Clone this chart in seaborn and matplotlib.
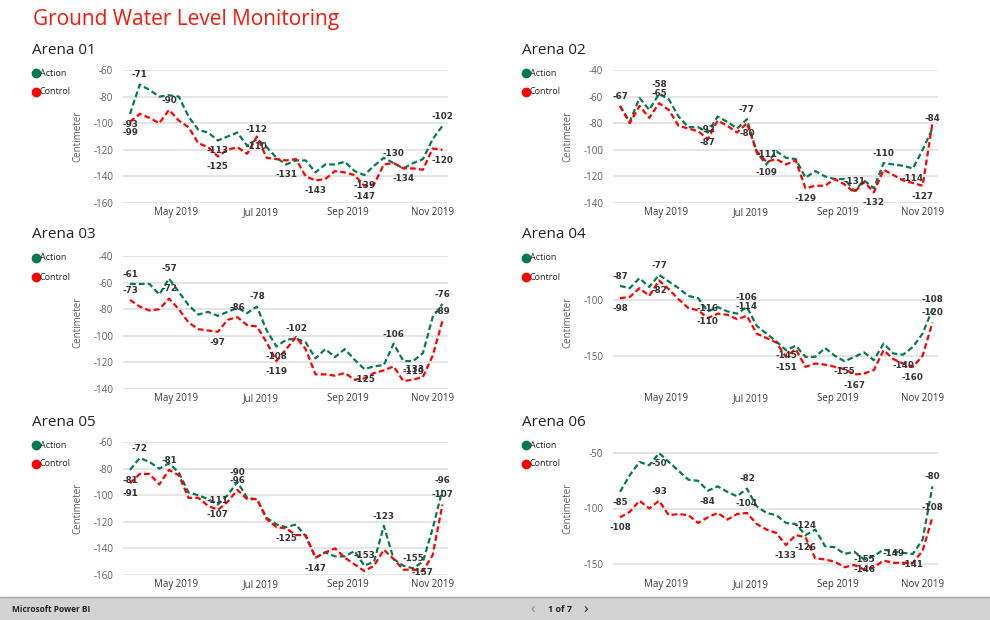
import numpy as np
import pandas as pd
import matplotlib
matplotlib.use("Agg")
import matplotlib.pyplot as plt
import seaborn as sns
from matplotlib.lines import Line2D
from matplotlib.patches import Rectangle

# ---------------------------------------------------------------- data
dates = pd.date_range("2019-03-29", periods=33, freq="7D")
series_names = ["Action", "Control"]
arena_names = ["Arena 01", "Arena 02", "Arena 03", "Arena 04", "Arena 05", "Arena 06"]
month_ticks = ["2019-05-01", "2019-07-01", "2019-09-01", "2019-11-01"]
month_labels = ["May 2019", "Jul 2019", "Sep 2019", "Nov 2019"]

action_01 = [-93, -71, -75, -80, -79, -80, -95, -105, -107, -113, -110, -107, -117, -112, -118, -126, -131,
             -128, -128, -137, -131, -131, -129, -136, -139, -132, -126, -130, -134, -130, -127, -112, -102]
control_01 = [-99, -93, -96, -100, -90, -98, -103, -115, -118, -125, -120, -118, -123, -110, -126, -127, -128,
              -127, -140, -143, -142, -136, -137, -139, -147, -146, -131, -130, -134, -134, -135, -119, -120]

action_02 = [-67, -79, -61, -70, -58, -62, -75, -83, -83, -87, -75, -79, -84, -77, -102, -111, -101,
             -106, -107, -121, -116, -120, -122, -122, -131, -123, -129, -110, -111, -112, -114, -100, -84]
control_02 = [-67, -80, -67, -76, -65, -70, -82, -84, -86, -92, -78, -82, -87, -80, -101, -109, -107,
              -111, -108, -129, -127, -127, -122, -126, -132, -124, -132, -115, -119, -123, -125, -127, -80]

action_03 = [-61, -61, -61, -69, -57, -67, -77, -84, -82, -85, -82, -79, -83, -78, -96, -108, -103,
             -102, -105, -117, -110, -116, -110, -118, -125, -123, -122, -106, -119, -119, -113, -86, -76]
control_03 = [-73, -78, -81, -80, -72, -80, -90, -95, -96, -97, -88, -86, -92, -93, -105, -119, -110,
              -101, -110, -129, -129, -130, -128, -133, -132, -128, -126, -123, -134, -133, -131, -115, -89]

action_04 = [-87, -89, -80, -88, -77, -83, -89, -96, -98, -110, -106, -110, -112, -106, -123, -130, -137,
             -145, -141, -151, -151, -143, -150, -155, -151, -147, -154, -139, -148, -149, -142, -130, -108]
control_04 = [-98, -97, -89, -96, -82, -90, -99, -107, -109, -116, -112, -113, -117, -114, -130, -134, -138,
              -151, -144, -160, -157, -158, -160, -162, -167, -166, -163, -145, -153, -157, -160, -150, -120]

action_05 = [-81, -72, -75, -80, -76, -83, -98, -100, -103, -107, -100, -90, -102, -103, -117, -122, -124,
             -122, -131, -147, -143, -146, -146, -142, -153, -150, -123, -148, -153, -155, -150, -125, -96]
control_05 = [-91, -84, -84, -92, -81, -85, -102, -102, -108, -111, -105, -96, -103, -103, -118, -124, -125,
              -130, -130, -147, -143, -140, -147, -152, -157, -153, -141, -148, -156, -156, -157, -145, -107]

action_06 = [-85, -70, -58, -61, -50, -58, -66, -74, -75, -84, -80, -85, -89, -82, -98, -104, -106,
             -113, -114, -124, -119, -134, -135, -141, -139, -146, -143, -137, -139, -140, -141, -128, -80]
control_06 = [-108, -103, -93, -100, -93, -106, -105, -106, -113, -108, -104, -110, -105, -104, -114, -119, -122,
              -133, -124, -126, -145, -146, -148, -153, -151, -155, -153, -147, -149, -149, -149, -138, -108]

y_ticks = {
    "Arena 01": [-160, -140, -120, -100, -80, -60],
    "Arena 02": [-140, -120, -100, -80, -60, -40],
    "Arena 03": [-140, -120, -100, -80, -60, -40],
    "Arena 04": [-150, -100],
    "Arena 05": [-160, -140, -120, -100, -80, -60],
    "Arena 06": [-150, -100, -50],
}
y_limits = {
    "Arena 01": (-160, -60), "Arena 02": (-140, -40), "Arena 03": (-140, -40),
    "Arena 04": (-180, -60), "Arena 05": (-160, -60), "Arena 06": (-160, -40),
}

# which points carry a data label, and where the label sits relative to the point
label_points = {
    "Arena 01": {"Action": {0: "b", 1: "a", 9: "b", 13: "a", 16: "b", 24: "b", 27: "a", 32: "a"},
                 "Control": {0: "b", 4: "a", 9: "b", 13: "b", 19: "b", 24: "b", 28: "b", 32: "b"}},
    "Arena 02": {"Action": {0: "a", 4: "a", 9: "b", 13: "a", 15: "a", 24: "a", 27: "a", 30: "b", 32: "a"},
                 "Control": {4: "a", 9: "a", 13: "b", 15: "b", 19: "b", 26: "b", 31: "b"}},
    "Arena 03": {"Action": {0: "a", 4: "a", 13: "a", 15: "b", 17: "a", 24: "b", 27: "a", 29: "b", 32: "a"},
                 "Control": {0: "a", 4: "a", 9: "b", 11: "a", 15: "b", 29: "a", 32: "a"}},
    "Arena 04": {"Action": {0: "a", 4: "a", 9: "b", 13: "a", 17: "sb", 23: "b", 29: "b", 32: "a"},
                 "Control": {0: "b", 4: "b", 9: "a", 13: "a", 17: "b", 24: "b", 30: "b", 32: "a"}},
    "Arena 05": {"Action": {0: "b", 1: "a", 9: "b", 11: "a", 24: "a", 26: "a", 29: "a", 32: "a"},
                 "Control": {0: "b", 4: "a", 9: "a", 11: "a", 16: "b", 19: "b", 30: "n", 32: "a"}},
    "Arena 06": {"Action": {0: "b", 4: "b", 9: "b", 13: "a", 19: "a", 25: "b", 30: "b", 32: "a"},
                 "Control": {0: "b", 4: "a", 13: "a", 17: "b", 19: "b", 25: "a", 28: "a", 32: "a"}},
}
label_offset = {"a": 7, "b": -7.5, "sb": -3.5, "n": -1}

values = {
    "Arena 01": (action_01, control_01), "Arena 02": (action_02, control_02),
    "Arena 03": (action_03, control_03), "Arena 04": (action_04, control_04),
    "Arena 05": (action_05, control_05), "Arena 06": (action_06, control_06),
}

# ---------------------------------------------------------------- style
GREEN = "#047A4E"
RED = "#FF0000"
TITLE_RED = "#F21A0C"
TEXT = "#252423"
AXIS_TEXT = "#605E5C"
palette = {"Action": GREEN, "Control": RED}

sns.set_theme(style="white")
plt.rcParams["font.family"] = ["Open Sans", "DejaVu Sans"]

W, H = 990, 620
fig = plt.figure(figsize=(W / 100, H / 100), dpi=100)


def fig_xy(x, y):
    return x / W, 1 - y / H


col_left = [123, 613]
row_top = [70, 256, 442]
ax_w, ax_h = 325, 133
xlim = (pd.Timestamp("2019-03-24"), pd.Timestamp("2019-11-12"))

fig.text(*fig_xy(33, 19), "Ground Water Level Monitoring", fontsize=15, color=TITLE_RED, va="center")

for k, name in enumerate(arena_names):
    r, c = divmod(k, 2)
    left, top = col_left[c], row_top[r]
    ax = fig.add_axes([left / W, 1 - (top + ax_h) / H, ax_w / W, ax_h / H])

    action, control = values[name]
    df = pd.DataFrame({
        "date": np.concatenate([dates, dates]),
        "value": action + control,
        "series": [series_names[0]] * len(dates) + [series_names[1]] * len(dates),
    })
    sns.lineplot(data=df, x="date", y="value", hue="series", style="series",
                 palette=palette, dashes={"Action": (2.6, 1.4), "Control": (2.6, 1.4)},
                 linewidth=1.6, ax=ax, legend=False)

    for s, vals in zip(series_names, (action, control)):
        for idx, side in label_points[name][s].items():
            ax.annotate(f"{vals[idx]}", (dates[idx], vals[idx]), xytext=(0, label_offset[side]),
                        textcoords="offset points", ha="center", va="center",
                        fontsize=6.3, fontweight="bold", color="#333333",
                        family="DejaVu Sans", annotation_clip=False)

    ax.set_xlim(*xlim)
    ax.set_ylim(*y_limits[name])
    ax.set_yticks(y_ticks[name])
    ax.set_yticklabels([str(t) for t in y_ticks[name]])
    ax.set_xticks(pd.to_datetime(month_ticks))
    ax.set_xticklabels(month_labels)
    ax.tick_params(axis="y", length=0, pad=7, labelsize=7, labelcolor=AXIS_TEXT)
    ax.tick_params(axis="x", length=0, pad=3, labelsize=7, labelcolor="#3b3a39")
    ax.yaxis.grid(True, color="#e3e3e3", linewidth=1.3)
    ax.xaxis.grid(False)
    ax.set_axisbelow(True)
    sns.despine(ax=ax, left=True, bottom=True)
    ax.set_xlabel("")
    ax.set_ylabel("Centimeter", fontsize=7, color=AXIS_TEXT)
    ax.yaxis.set_label_coords((83 + 490 * c - left) / ax_w, 0.5)

    # panel heading and legend
    tx = 32 + 490 * c
    ty = [50, 235, 423][r]
    fig.text(*fig_xy(tx, ty), name, fontsize=11, color=TEXT, va="center")
    ly = [(73, 92), (258, 277), (445, 464)][r]
    for s, yy in zip(series_names, ly):
        fig.add_artist(Line2D([fig_xy(tx + 4, yy)[0]], [fig_xy(tx + 4, yy)[1]], marker="o", markersize=6,
                              linestyle="", color=palette[s], transform=fig.transFigure))
        fig.text(*fig_xy(tx + 8, yy), s, fontsize=6.5, color=TEXT, va="center")

# footer bar
fig.add_artist(Rectangle((0, 0), 1, 23 / H, transform=fig.transFigure, facecolor="#d3d3d3",
                         edgecolor="none", zorder=0))
fig.add_artist(Line2D([0, 1], [23 / H, 23 / H], color="#a8a8a8", linewidth=1, transform=fig.transFigure))
fig.text(*fig_xy(12, 610), "Microsoft Power BI", fontsize=6, fontweight="bold", color=TEXT, va="center")
fig.text(*fig_xy(533, 610), "\u2039", fontsize=11, color="#8a8886", va="center", ha="center")
fig.text(*fig_xy(560, 610), "1 of 7", fontsize=6.5, fontweight="bold", color=TEXT, va="center", ha="center")
fig.text(*fig_xy(586, 610), "\u203a", fontsize=11, color=TEXT, va="center", ha="center")

fig.savefig("out.png", dpi=100, facecolor="white")
